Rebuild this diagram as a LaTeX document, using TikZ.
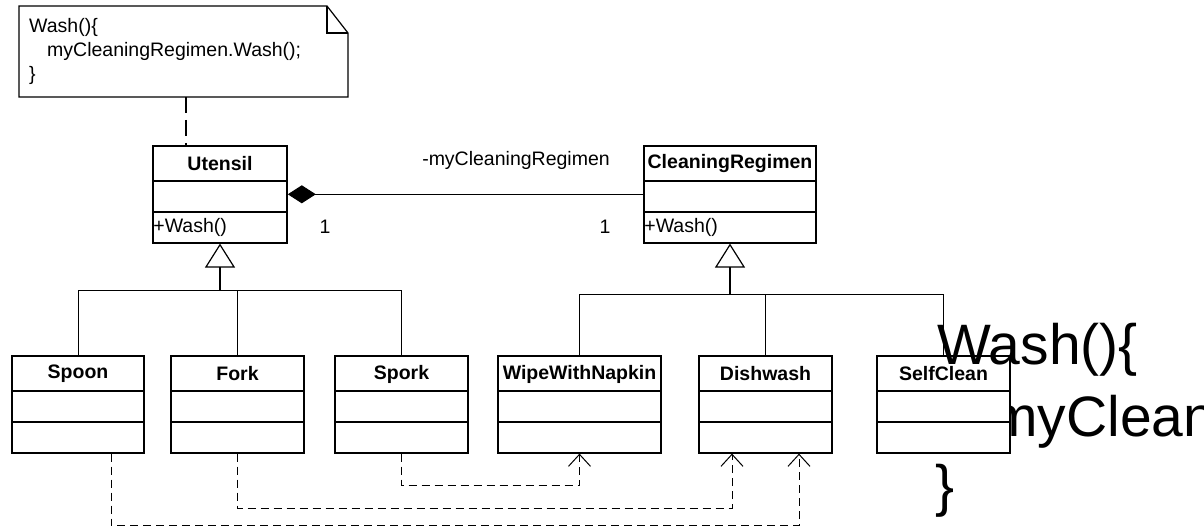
\documentclass[tikz,border=0pt]{standalone}
\usepackage{fontspec}
\setmainfont{Liberation Sans}
\usetikzlibrary{arrows.meta}
\newcommand\umlclass[5]{% name, center x, top y, width, title
  \node[clsbox, minimum width=#4pt, anchor=north] (#1) at (#2,#3) {};
  \draw[clsline] ([yshift=-36pt]#1.north west) -- ([yshift=-36pt]#1.north east);
  \draw[clsline] ([yshift=-67pt]#1.north west) -- ([yshift=-67pt]#1.north east);
  \node[ctitle] (#1-name) at ([yshift=-19pt]#1.north) {#5};
}
\begin{document}
\begin{tikzpicture}[x=1pt,y=-1pt,
  txt/.style={font=\fontsize{19.5}{24}\selectfont, inner sep=0pt},
  ctitle/.style={txt, font=\fontsize{19.5}{24}\selectfont\bfseries},
  clsbox/.style={draw, line width=1.6pt, minimum height=97pt, inner sep=0pt},
  clsline/.style={line width=1.6pt},
  notebox/.style={line width=1.2pt, line join=miter},
  notelink/.style={line width=1.2pt, dash pattern=on 16pt off 7pt},
  bigtxt/.style={font=\fontsize{57}{66}\selectfont, inner sep=0pt, anchor=base west},
  assoc/.style={line width=1pt, {Diamond[length=28pt,width=18pt]}-},
  gen/.style={line width=1.2pt, -{Triangle[open,length=24pt,width=30pt,fill=white]}},
  tree/.style={line width=1pt},
  dep/.style={line width=1pt, dash pattern=on 8pt off 5pt, -{Straight Barb[length=12pt,width=22pt]}}
]
\useasboundingbox (0,0) rectangle (1204,526);

% note
\draw[notebox] (19,6) -- (327,6) -- (348,33) -- (348,97) -- (19,97) -- cycle;
\draw[notebox] (327,6) -- (327,33) -- (348,33);
\node[txt, anchor=base west] (noteA) at (29,33) {Wash()\{};
\node[txt, anchor=base west] (noteB) at (47,57) {myCleaningRegimen.Wash();};
\node[txt, anchor=base west] (noteC) at (29,81) {\}};

% big overflowing text
\node[bigtxt] (bigA) at (937,364) {Wash()\{};
\node[bigtxt] (bigB) at (990,436) {myCleaningRegimen.Wash();};
\node[bigtxt] (bigC) at (935,505) {\}};

% classes
\umlclass{utensil}{220}{145}{134}{Utensil}
\node[txt, anchor=west] (utensil-ops) at ([xshift=1pt,yshift=-82pt]utensil.north west) {+Wash()};
\umlclass{regimen}{730}{145}{172}{CleaningRegimen}
\node[txt, anchor=west] (regimen-ops) at ([xshift=1pt,yshift=-82pt]regimen.north west) {+Wash()};

\umlclass{spoon}{78}{355}{132}{Spoon}
\umlclass{fork}{237.5}{355}{133}{Fork}
\umlclass{spork}{401.5}{355}{133}{Spork}
\umlclass{wipe}{579.5}{355}{163}{WipeWithNapkin}
\umlclass{dishwash}{765.5}{355}{133}{Dishwash}
\fill[white] (877,391) rectangle (1010,452);
\umlclass{selfclean}{943.5}{355}{133}{SelfClean}

% note link
\coordinate (noteanchor) at (186,97);
\draw[notelink] (noteanchor) -- (utensil.north -| noteanchor);

% association
\draw[assoc] (utensil.east) -- (regimen.west);
\node[txt] (role) at (516,160) {-myCleaningRegimen};
\node[txt] (multA) at (325,227) {1};
\node[txt] (multB) at (605,227) {1};

% generalization trees
\coordinate (ujoin) at (220,291);
\draw[gen] (ujoin) -- (utensil.south);
\draw[tree] (spoon.north) |- (ujoin);
\draw[tree] (spork.north) |- (ujoin);
\draw[tree] (fork.north) -- (fork.north |- ujoin);

\coordinate (cjoin) at (730,295);
\draw[gen] (cjoin) -- (regimen.south);
\draw[tree] (wipe.north) |- (cjoin);
\draw[tree] (selfclean.north) |- (cjoin);
\draw[tree] (dishwash.north) -- (dishwash.north |- cjoin);

% dependencies
\draw[dep] (spork.south) -- ++(0,32) -| (wipe.south);
\draw[dep] (fork.south) -- ++(0,55) -| ([xshift=-33.5pt]dishwash.south);
\draw[dep] ([xshift=33pt]spoon.south) -- ++(0,72) -| ([xshift=33.5pt]dishwash.south);
\end{tikzpicture}
\end{document}
